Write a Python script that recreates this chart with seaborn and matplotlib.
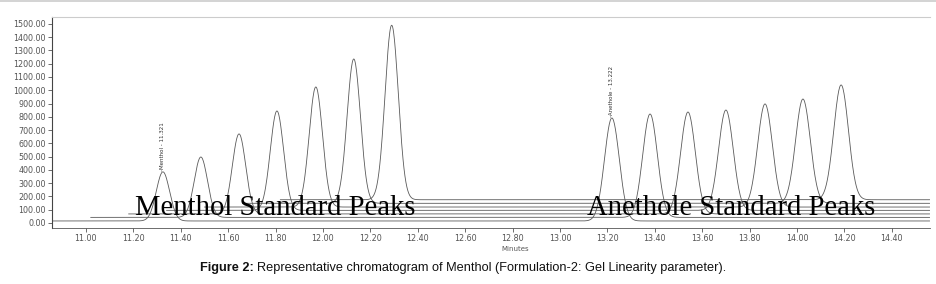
import numpy as np
import pandas as pd
import matplotlib
matplotlib.use("Agg")
import matplotlib.pyplot as plt
from matplotlib.ticker import AutoMinorLocator
import seaborn as sns

# ---- data ----
menthol_times = [11.325, 11.485, 11.646, 11.806, 11.970, 12.130, 12.290]
menthol_apex = [385, 497, 671, 844, 1025, 1236, 1490]
anethole_times = [13.219, 13.380, 13.540, 13.700, 13.865, 14.025, 14.186]
anethole_apex = [791, 821, 836, 851, 897, 934, 1040]
trace_baselines = [15, 42, 68, 95, 120, 148, 175]
trace_starts = [10.86, 11.02, 11.18, 11.34, 11.50, 11.66, 11.82]
menthol_label = "Menthol - 11.321"
anethole_label = "Anethole - 13.222"
x_ticks = [11.0, 11.2, 11.4, 11.6, 11.8, 12.0, 12.2, 12.4, 12.6, 12.8,
           13.0, 13.2, 13.4, 13.6, 13.8, 14.0, 14.2, 14.4]
y_ticks = list(range(0, 1501, 100))
caption_bold = "Figure 2:"
caption_rest = "Representative chromatogram of Menthol (Formulation-2: Gel Linearity parameter)."

X_MIN, X_MAX = 10.857, 14.561
Y_MIN, Y_MAX = -38, 1552
SIG_M, SIG_A = 0.028, 0.031

sns.set_theme(style="white")
plt.rcParams["font.family"] = ["DejaVu Sans"]

fig = plt.figure(figsize=(9.37, 2.84), dpi=100)
ax = fig.add_axes([52 / 937, 1 - 228 / 284, (930 - 52) / 937, (228 - 17) / 284])

rows = []
for k in range(len(menthol_times)):
    t = np.arange(trace_starts[k], X_MAX, 0.002)
    b = trace_baselines[k]
    s = (b
         + (menthol_apex[k] - b) * np.exp(-0.5 * ((t - menthol_times[k]) / SIG_M) ** 2)
         + (anethole_apex[k] - b) * np.exp(-0.5 * ((t - anethole_times[k]) / SIG_A) ** 2))
    rows.append(pd.DataFrame({"time": t, "signal": s, "trace": k}))
df = pd.concat(rows, ignore_index=True)

sns.lineplot(data=df, x="time", y="signal", units="trace", estimator=None,
             color="#5a5a5a", linewidth=0.6, ax=ax, legend=False)

ax.set_xlim(X_MIN, X_MAX)
ax.set_ylim(Y_MIN, Y_MAX)
ax.set_xticks(x_ticks)
ax.set_xticklabels([f"{v:.2f}" for v in x_ticks])
ax.set_yticks(y_ticks)
ax.set_yticklabels([f"{v:.2f}" for v in y_ticks])
ax.xaxis.set_minor_locator(AutoMinorLocator(4))
ax.yaxis.set_minor_locator(AutoMinorLocator(4))
ax.tick_params(axis="both", which="major", direction="out", length=3, width=0.6,
               colors="#555555", labelsize=5.8, pad=1.5)
ax.tick_params(axis="both", which="minor", direction="out", length=1.5, width=0.5,
               colors="#777777")
ax.tick_params(left=True, bottom=True)
ax.set_ylabel("")
ax.set_xlabel("Minutes", fontsize=5, color="#555555", labelpad=0)
ax.xaxis.set_label_coords((515 - 52) / (930 - 52), -0.085)

ax.spines["right"].set_visible(False)
ax.spines["top"].set_color("#cccccc")
ax.spines["top"].set_linewidth(0.8)
ax.spines["left"].set_color("#444444")
ax.spines["left"].set_linewidth(0.8)
ax.spines["bottom"].set_color("#555555")
ax.spines["bottom"].set_linewidth(0.6)

# peak labels
label_font = ["Liberation Sans Narrow", "DejaVu Sans"]
ax.text(menthol_times[0], menthol_apex[0] + 5, "-" + menthol_label, rotation=90,
        ha="center", va="bottom", fontsize=4, family=label_font, color="#333333")
ax.text(anethole_times[0], anethole_apex[0] + 5, "-" + anethole_label, rotation=90,
        ha="center", va="bottom", fontsize=4, family=label_font, color="#333333")

# big serif annotations
ax.text(11.207, 60, "Menthol Standard Peaks", fontsize=20.6, family="Liberation Serif",
        color="#000000", ha="left", va="baseline")
ax.text(13.114, 60, "Anethole Standard Peaks", fontsize=20.6, family="Liberation Serif",
        color="#000000", ha="left", va="baseline")

# top border of scanned image
fig.add_artist(plt.Line2D([0, 1], [0.997, 0.997], color="#cccccc", linewidth=1.2))

# caption
t1 = fig.text(200 / 937, 1 - 268 / 284, caption_bold, fontsize=9.2, fontweight="bold",
              family="Liberation Sans", color="#111111", ha="left", va="center")
fig.canvas.draw()
bb = t1.get_window_extent(renderer=fig.canvas.get_renderer())
fig.text((bb.x1 + 3) / 937, 1 - 268 / 284, caption_rest, fontsize=9.2,
         family="Liberation Sans", color="#111111", ha="left", va="center")

fig.savefig("out.png", dpi=100)
